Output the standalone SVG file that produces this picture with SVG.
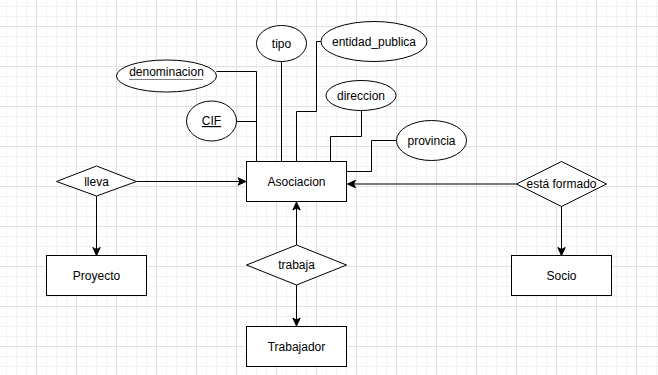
<svg xmlns="http://www.w3.org/2000/svg" width="658" height="375" viewBox="0 0 658 375">
<style>
.n{fill:#fff;stroke:#000;stroke-width:1}
.t{font-family:"Liberation Sans",Arial,sans-serif;font-size:12px;fill:#000;text-anchor:middle}
.c{fill:none;stroke:#000;stroke-width:1}
.g{fill:none;stroke:#7a7a7a;stroke-width:2}
</style>
<defs>
<pattern id="grid" x="36" y="26" width="40" height="40" patternUnits="userSpaceOnUse">
<path d="M10.5 0V40M20.5 0V40M30.5 0V40M0 10.5H40M0 20.5H40M0 30.5H40" stroke="#f3f3f3" stroke-width="1" fill="none"/>
<path d="M0.5 0V40M0 0.5H40" stroke="#e0e0e0" stroke-width="1" fill="none"/>
</pattern>
<marker id="arr" markerUnits="userSpaceOnUse" markerWidth="10" markerHeight="10" viewBox="0 0 10 10" refX="9" refY="5" orient="auto">
<path d="M1,1.3 L9,5 L1,8.7 L3,5 Z" fill="#000" stroke="#000" stroke-width="1"/>
</marker>
</defs>
<rect width="658" height="375" fill="#fff"/>
<rect width="658" height="375" fill="url(#grid)"/>

<g id="connectors">
<path class="c" d="M216.5 71.5H256.5V161"/>
<path class="c" d="M236.5 121.5H256.5"/>
<path class="c" d="M281.5 61.5V161"/>
<path class="c" d="M321 41.5H316.5V111.5H296.5V161"/>
<path class="c" d="M361.5 110.5V136.5H330.5V161"/>
<path class="c" d="M396 140.5H371.5V171.5H346.5"/>
<path class="c" d="M136.5 181.5H246" marker-end="url(#arr)"/>
<path class="c" d="M96.5 196V255.5" marker-end="url(#arr)"/>
<path class="c" d="M296.5 245V202" marker-end="url(#arr)"/>
<path class="c" d="M296.5 285V326" marker-end="url(#arr)"/>
<path class="g" d="M516.5 184H347.5" marker-end="url(#arr)"/>
<path class="c" d="M561.5 206V255.5" marker-end="url(#arr)"/>
</g>

<g id="Asociacion"><rect class="n" x="246.5" y="161.5" width="100" height="40"/><text class="t" x="296.5" y="185.5">Asociacion</text></g>
<g id="Proyecto"><rect class="n" x="46.5" y="255.5" width="100" height="40"/><text class="t" x="96.5" y="279.5">Proyecto</text></g>
<g id="Trabajador"><rect class="n" x="246.5" y="326.5" width="100" height="40"/><text class="t" x="296.5" y="350.5">Trabajador</text></g>
<g id="Socio"><rect class="n" x="511.5" y="255.5" width="100" height="40"/><text class="t" x="561.5" y="279.5">Socio</text></g>

<g id="lleva"><path class="n" d="M56.5 181.5L96.5 166L136.5 181.5L96.5 196Z"/><text class="t" x="96.5" y="185.5">lleva</text></g>
<g id="trabaja"><path class="n" d="M246.5 265L296.5 245L346.5 265L296.5 285Z"/><text class="t" x="296.5" y="269">trabaja</text></g>
<g id="esta_formado"><path class="n" d="M516.5 184L561.5 161.5L606.5 184L561.5 206.5Z"/><text class="t" x="561.5" y="188">está formado</text></g>

<g id="tipo"><ellipse class="n" cx="281.5" cy="43.5" rx="25" ry="18"/><text class="t" x="281.5" y="47.5">tipo</text></g>
<g id="entidad_publica"><ellipse class="n" cx="374" cy="41.5" rx="53" ry="20"/><text class="t" x="374" y="45.5">entidad_publica</text></g>
<g id="denominacion"><ellipse class="n" cx="166.5" cy="76" rx="50" ry="16"/><text class="t" x="166.5" y="75.5">denominacion</text><line x1="129.5" y1="79.5" x2="203.5" y2="79.5" stroke="#000" stroke-width="1" stroke-dasharray="1,1"/></g>
<g id="CIF"><ellipse class="n" cx="211.5" cy="121" rx="25" ry="20"/><text class="t" x="211.5" y="125" text-decoration="underline">CIF</text></g>
<g id="direccion"><ellipse class="n" cx="361" cy="95.5" rx="35" ry="15"/><text class="t" x="361" y="99.5">direccion</text></g>
<g id="provincia"><ellipse class="n" cx="431.5" cy="140.5" rx="35" ry="20"/><text class="t" x="431.5" y="144.5">provincia</text></g>
</svg>
